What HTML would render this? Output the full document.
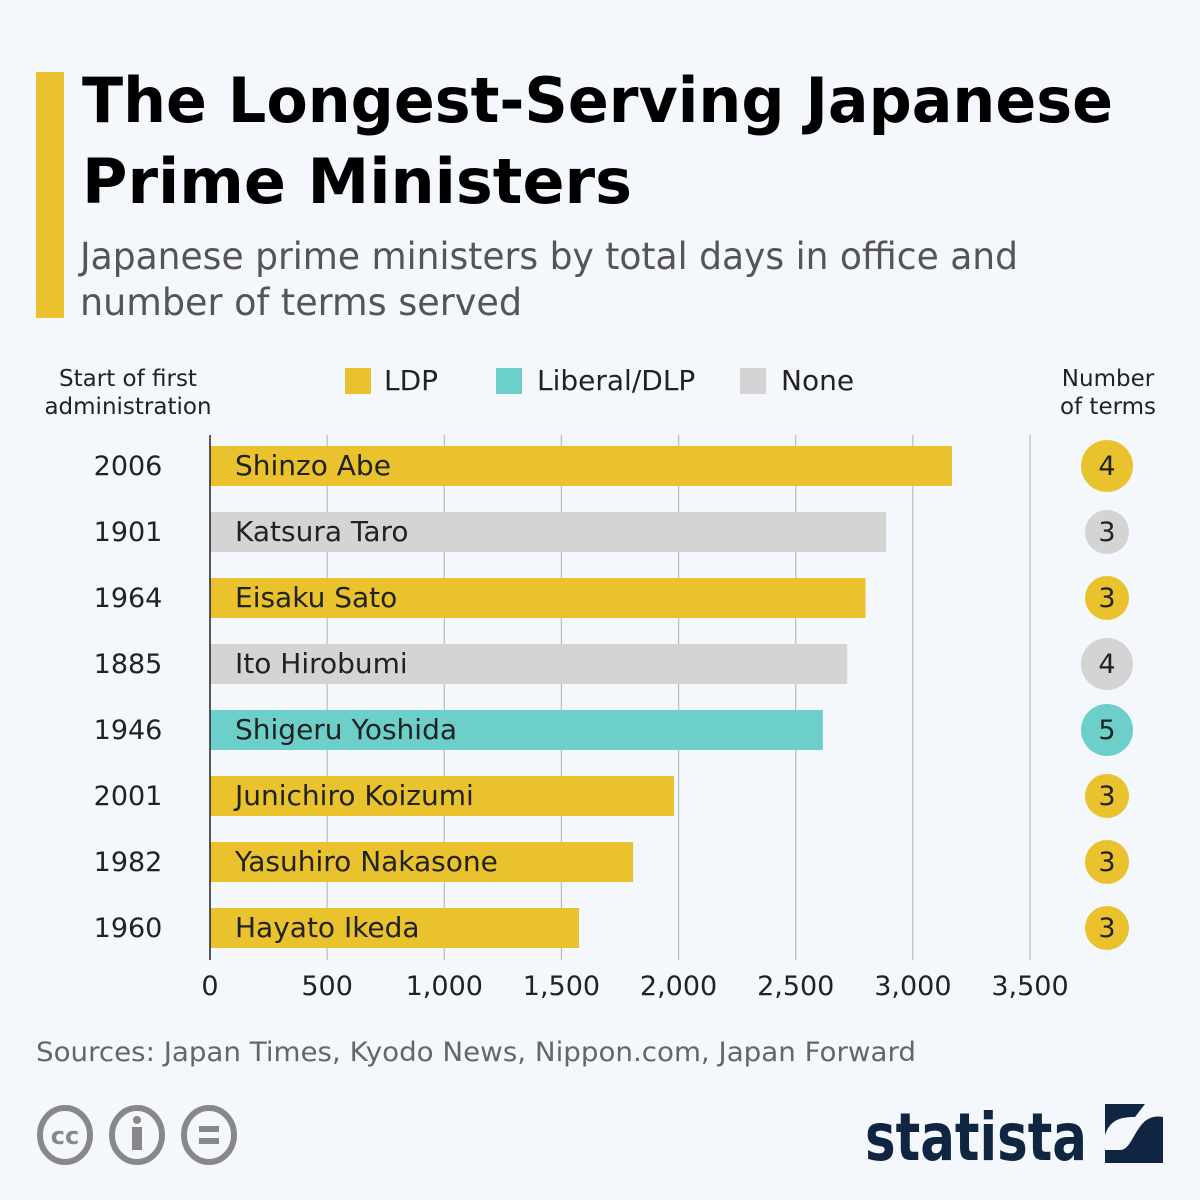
<!DOCTYPE html>
<html><head><meta charset="utf-8"><style>
body{margin:0;background:#f4f7fb;font-family:"Liberation Sans","DejaVu Sans",sans-serif}
svg{display:block}
</style></head><body>
<svg id="chart" width="1200" height="1200" viewBox="0 0 1200 1200" font-family="'DejaVu Sans','Liberation Sans',sans-serif">
<rect width="1200" height="1200" fill="#f4f7fb"/>
<rect x="36" y="72" width="28" height="246" fill="#e9c22e"/>
<text x="82" y="122" font-size="62" font-weight="bold" fill="#000" textLength="1031" lengthAdjust="spacingAndGlyphs">The Longest-Serving Japanese</text>
<text x="82" y="203" font-size="62" font-weight="bold" fill="#000" textLength="550" lengthAdjust="spacingAndGlyphs">Prime Ministers</text>
<text x="80" y="269" font-size="37" fill="#555" textLength="938" lengthAdjust="spacingAndGlyphs">Japanese prime ministers by total days in office and</text>
<text x="80" y="315" font-size="37" fill="#555" textLength="442" lengthAdjust="spacingAndGlyphs">number of terms served</text>
<text x="128" y="386" font-size="23" text-anchor="middle" fill="#222"><tspan x="128">Start of first</tspan><tspan x="128" dy="28">administration</tspan></text>
<text x="1108" y="386" font-size="23" text-anchor="middle" fill="#222"><tspan x="1108">Number</tspan><tspan x="1108" dy="28">of terms</tspan></text>
<g>
<rect x="345" y="368" width="26" height="26" fill="#e9c22e"/>
<text x="384" y="390" font-size="28" fill="#222">LDP</text>
<rect x="496" y="368" width="26" height="26" fill="#6dcfca"/>
<text x="537" y="390" font-size="28" fill="#222">Liberal/DLP</text>
<rect x="740" y="368" width="26" height="26" fill="#d4d4d4"/>
<text x="781" y="390" font-size="28" fill="#222">None</text>
</g>
<g id="grid"></g><g id="bars"></g><g id="axis"></g>
<text x="36" y="1061" font-size="27" fill="#666" textLength="880" lengthAdjust="spacingAndGlyphs">Sources: Japan Times, Kyodo News, Nippon.com, Japan Forward</text>
<g fill="none" stroke="#888" stroke-width="6">
<ellipse cx="65" cy="1135" rx="25" ry="27"/><ellipse cx="137" cy="1135" rx="25" ry="27"/><ellipse cx="209" cy="1135" rx="25" ry="27"/>
</g>
<text x="65" y="1144" font-size="24" font-weight="bold" text-anchor="middle" fill="#888">cc</text>
<circle cx="137" cy="1120" r="4" fill="#888"/><rect x="132" y="1127" width="10" height="23" fill="#888"/>
<rect x="199" y="1126" width="20" height="6" fill="#888"/><rect x="199" y="1138" width="20" height="6" fill="#888"/>
<text x="865" y="1160" font-size="66" font-weight="bold" fill="#0f2541" textLength="222" lengthAdjust="spacingAndGlyphs">statista</text>
<path d="M1105 1104 H1163 V1163 H1105 V1150 H1120 C1135 1150 1135 1112 1163 1117 V1104 Z M1105 1104 V1135 C1110 1120 1120 1117 1135 1117 L1145 1104 Z" fill="#0f2541"/>
</svg>
<script>
const names=["Shinzo Abe","Katsura Taro","Eisaku Sato","Ito Hirobumi","Shigeru Yoshida","Junichiro Koizumi","Yasuhiro Nakasone","Hayato Ikeda"];
const years=["2006","1901","1964","1885","1946","2001","1982","1960"];
const days=[3167,2886,2798,2720,2616,1980,1806,1575];
const parties=["LDP","None","LDP","None","Liberal","LDP","LDP","LDP"];
const terms=[4,3,3,4,5,3,3,3];
const ticks=[0,500,1000,1500,2000,2500,3000,3500];
const tickLabels=["0","500","1,000","1,500","2,000","2,500","3,000","3,500"];
const NS="http://www.w3.org/2000/svg";
const colors={LDP:"#e9c22e",Liberal:"#6dcfca",None:"#d4d4d4"};
const x=v=>210+v*(820/3500);
const yc=i=>466+i*66;
function mk(tag,attrs,parent,txt){const e=document.createElementNS(NS,tag);for(const k in attrs)e.setAttribute(k,attrs[k]);if(txt!==undefined)e.textContent=txt;parent.appendChild(e);return e;}
const grid=document.getElementById('grid'),bars=document.getElementById('bars'),axis=document.getElementById('axis');
ticks.forEach((t,i)=>{
 if(i>0){const g=mk('line',{x1:x(t),x2:x(t),y1:435,y2:960,stroke:'#bbb','stroke-width':1.2},grid);
 
 }
 const l=mk('text',{x:x(t),y:995,'font-size':27,'text-anchor':'middle',fill:'#222'},axis,tickLabels[i]);
 
 
});
names.forEach((n,i)=>{
 const c=colors[parties[i]];
 const b=mk('rect',{x:x(0),y:yc(i)-20,width:x(days[i])-x(0),height:40,fill:c},bars);
 
 
 const t=mk('text',{x:235,y:yc(i)+9,'font-size':28,fill:'#222'},bars,n);
 
 
 const yl=mk('text',{x:128,y:yc(i)+9,'font-size':27,'text-anchor':'middle',fill:'#222'},bars,years[i]);
 
 
 const r=terms[i]>=4?26:22;
 const cc=mk('circle',{cx:1107,cy:yc(i),r:r,fill:c},bars);
 
 
 const tt=mk('text',{x:1107,y:yc(i)+9,'font-size':27,'text-anchor':'middle',fill:'#222'},bars,terms[i]);
 
 
});
const ax=mk('line',{x1:210,x2:210,y1:435,y2:960,stroke:'#222','stroke-width':1.5},axis);


</script>
</body></html>
